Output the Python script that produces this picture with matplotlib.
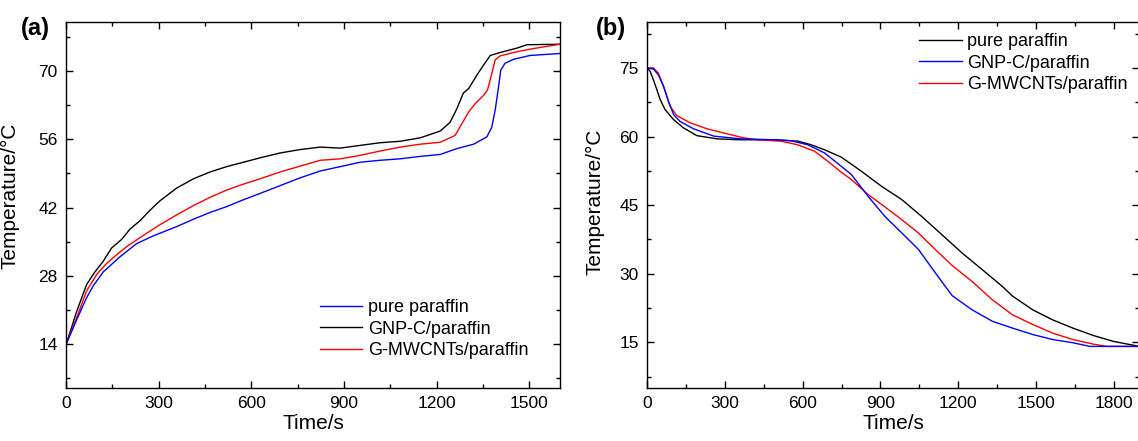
import matplotlib
matplotlib.use('Agg')
import matplotlib.pyplot as plt
from matplotlib.ticker import MultipleLocator

plt.rcParams['font.family'] = ['Liberation Sans', 'DejaVu Sans']

# ---------------- Panel (a): heating ----------------
a_pure_t = [0, 34, 66, 88, 120, 174, 228, 282, 358, 412, 466, 520, 574, 628, 693,
            758, 823, 888, 952, 1017, 1082, 1147, 1212, 1266, 1320, 1363, 1379, 1390, 1401,
            1408, 1422, 1449, 1503, 1600]
a_pure_T = [14, 19.0, 23.5, 26.0, 28.8, 31.9, 34.6, 36.2, 38.1, 39.6, 41.0, 42.2,
            43.6, 44.9, 46.5, 48.1, 49.5, 50.4, 51.3, 51.7, 52.0, 52.5, 52.9, 54.1, 55.0, 56.5,
            58.5, 62.0, 66.8, 70.2, 71.6, 72.4, 73.2, 73.6]

a_gnp_t = [0, 34, 66, 93, 120, 147, 180, 207, 239, 272, 304, 358, 412, 466, 520, 574, 628,
           693, 758, 823, 888, 952, 1017, 1082, 1147, 1212, 1244, 1266, 1287, 1304, 1331, 1352,
           1374, 1406, 1460, 1493, 1600]
a_gnp_T = [14, 20.7, 26.2, 28.8, 31.0, 33.7, 35.5, 37.6, 39.3, 41.5, 43.4, 46.0, 47.9,
           49.3, 50.4, 51.3, 52.2, 53.2, 53.9, 54.4, 54.2, 54.75, 55.3, 55.6, 56.3, 57.7, 59.5,
           62.3, 65.5, 66.4, 69.2, 71.2, 73.2, 73.8, 74.7, 75.4, 75.5]

a_gm_t = [0, 34, 66, 99, 130, 165, 196, 250, 304, 358, 412, 466, 520, 574, 628, 693, 758,
          823, 888, 952, 1017, 1082, 1147, 1212, 1260, 1282, 1304, 1325, 1352, 1365, 1379, 1390,
          1406, 1449, 1503, 1600]
a_gm_T = [14, 19.4, 24.9, 28.3, 30.5, 32.4, 34.0, 36.3, 38.5, 40.5, 42.4, 44.1, 45.6,
          46.8, 47.9, 49.3, 50.5, 51.7, 52.0, 52.7, 53.6, 54.4, 55.0, 55.4, 56.8, 59.2, 61.6,
          63.3, 65.0, 66.1, 69.5, 72.3, 73.1, 73.8, 74.5, 75.5]

# ---------------- Panel (b): cooling ----------------
b_pure_t = [0, 11, 24, 37, 50, 69, 102, 140, 192, 270, 361, 490, 581, 633, 685, 749, 827, 905,
            983, 1060, 1138, 1216, 1293, 1371, 1410, 1488, 1565, 1643, 1721, 1799, 1900]
b_pure_T = [75, 74.3, 72.4, 70.3, 68.1, 65.9, 63.7, 61.9, 60.2, 59.5, 59.3, 59.3, 59.0, 58.2,
            57.1, 55.5, 52.4, 49.1, 46.2, 42.5, 38.5, 34.5, 30.9, 27.2, 25.1, 22.1, 19.9, 18.1,
            16.5, 15.2, 14.1]

b_gnp_t = [0, 24, 43, 63, 82, 102, 127, 179, 257, 361, 490, 555, 620, 685, 749, 788, 853, 918,
           983, 1047, 1112, 1177, 1254, 1332, 1410, 1488, 1565, 1643, 1708, 1900]
b_gnp_T = [75, 74.8, 73.5, 71.0, 67.7, 64.8, 63.3, 61.7, 60.1, 59.5, 59.3, 59.1, 58.2, 56.4,
           53.5, 51.7, 46.9, 42.5, 38.9, 35.3, 30.2, 25.2, 22.1, 19.6, 18.1, 16.7, 15.6, 14.9,
           14.1, 14.1]

b_gm_t = [0, 24, 43, 63, 89, 114, 166, 231, 309, 374, 425, 516, 581, 646, 697, 749, 788, 853,
          918, 983, 1047, 1112, 1177, 1254, 1332, 1410, 1488, 1565, 1643, 1721, 1773, 1900]
b_gm_T = [75, 75.0, 73.9, 71.0, 66.6, 64.6, 63.0, 61.7, 60.6, 59.7, 59.3, 59.0, 58.2, 56.8,
          54.6, 52.2, 50.6, 47.3, 44.6, 41.8, 38.9, 35.3, 31.8, 28.3, 24.3, 21.0, 18.9, 17.0,
          15.6, 14.6, 14.1, 14.1]

labels = ['pure paraffin', 'GNP-C/paraffin', 'G-MWCNTs/paraffin']

W, H = 1138, 441
fig = plt.figure(figsize=(W / 100, H / 100), dpi=100)
ax_a = fig.add_axes([66.2 / W, 1 - 388 / H, (560 - 66.2) / W, (388 - 22.3) / H])
ax_b = fig.add_axes([647.2 / W, 1 - 388 / H, (1139.5 - 647.2) / W, (388 - 22.3) / H])

lw = 1.0
ax_a.plot(a_gnp_t, a_gnp_T, color='black', lw=lw, label=labels[1])
ax_a.plot(a_gm_t, a_gm_T, color='#ff0000', lw=lw, label=labels[2])
ax_a.plot(a_pure_t, a_pure_T, color='#0000ff', lw=lw, label=labels[0])

ax_b.plot(b_pure_t, b_pure_T, color='black', lw=lw, label=labels[0])
ax_b.plot(b_gm_t, b_gm_T, color='#ff0000', lw=lw, label=labels[2])
ax_b.plot(b_gnp_t, b_gnp_T, color='#0000ff', lw=lw, label=labels[1])

ax_a.set_xlim(0, 1600)
ax_a.set_ylim(5, 80)
ax_a.xaxis.set_major_locator(MultipleLocator(300))
ax_a.xaxis.set_minor_locator(MultipleLocator(150))
ax_a.yaxis.set_major_locator(MultipleLocator(14))
ax_a.yaxis.set_minor_locator(MultipleLocator(7))

ax_b.set_xlim(0, 1900)
ax_b.set_ylim(5, 85)
ax_b.xaxis.set_major_locator(MultipleLocator(300))
ax_b.xaxis.set_minor_locator(MultipleLocator(150))
ax_b.yaxis.set_major_locator(MultipleLocator(15))
ax_b.yaxis.set_minor_locator(MultipleLocator(7.5))

for ax in (ax_a, ax_b):
    for s in ax.spines.values():
        s.set_linewidth(1.0)
    ax.tick_params(which='both', direction='in', top=True, right=True, width=1.0,
                   labelsize=12.5)
    ax.tick_params(which='major', length=5, pad=6)
    ax.tick_params(which='minor', length=3)
    ax.set_xlabel('Time/s', fontsize=15, labelpad=2)
    ax.set_ylabel('Temperature/°C', fontsize=15)

ax_a.yaxis.set_label_coords(-0.094, 0.526)
ax_b.yaxis.set_label_coords(-0.087, 0.508)

# legends
h_a, l_a = ax_a.get_legend_handles_labels()
order_a = [l_a.index(l) for l in labels]
ax_a.legend([h_a[i] for i in order_a], [l_a[i] for i in order_a], loc='upper left',
            bbox_to_anchor=(0.514, 0.243), frameon=False, fontsize=13, borderpad=0,
            borderaxespad=0, handlelength=2.33, handletextpad=0.33, labelspacing=0.25)
h_b, l_b = ax_b.get_legend_handles_labels()
order_b = [l_b.index(l) for l in labels]
ax_b.legend([h_b[i] for i in order_b], [l_b[i] for i in order_b], loc='upper left',
            bbox_to_anchor=(0.553, 0.970), frameon=False, fontsize=13, borderpad=0,
            borderaxespad=0, handlelength=2.33, handletextpad=0.33, labelspacing=0.25)

fig.text(21 / W, 1 - 28 / H, '(a)', fontsize=17, fontweight='bold', va='center', ha='left')
fig.text(596 / W, 1 - 28 / H, '(b)', fontsize=17, fontweight='bold', va='center', ha='left')

fig.savefig('out.png', dpi=100)
